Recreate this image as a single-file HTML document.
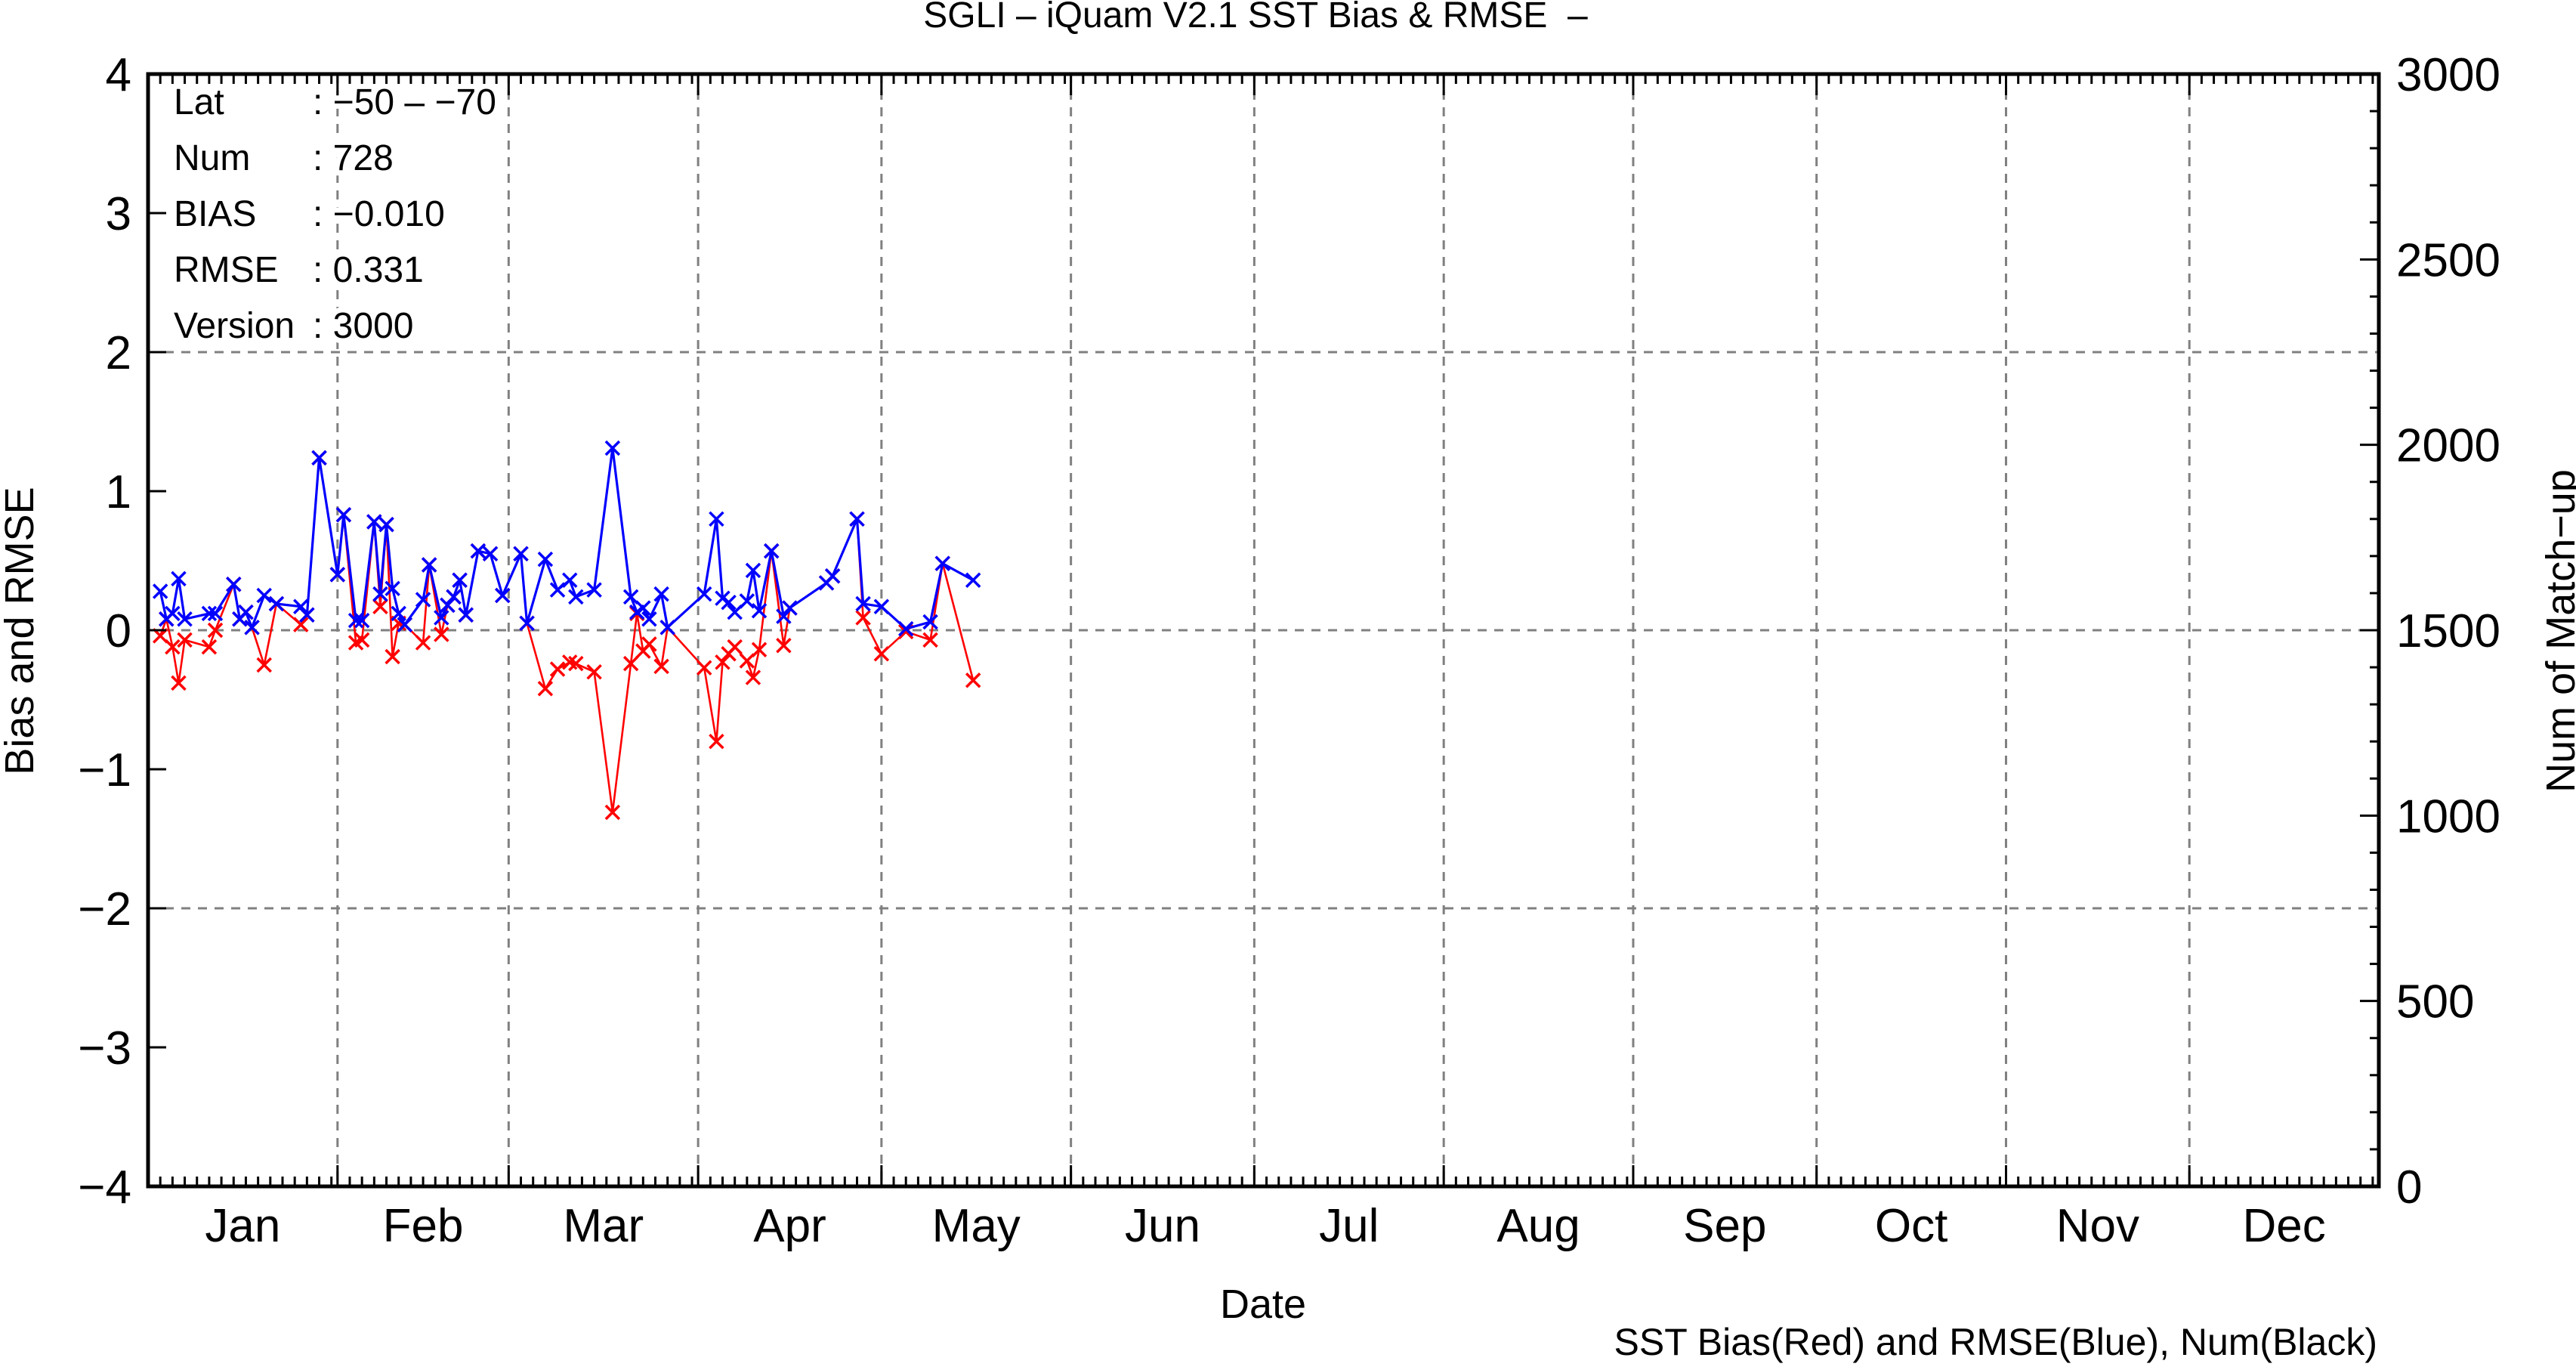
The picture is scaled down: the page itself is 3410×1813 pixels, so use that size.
<!DOCTYPE html>
<html><head><meta charset="utf-8"><style>
html,body{margin:0;padding:0;background:#fff;}
svg{display:block;font-family:"Liberation Sans",sans-serif;}
</style></head><body>
<svg id="chart" width="3410" height="1813" viewBox="0 0 3410 1813" xmlns="http://www.w3.org/2000/svg">
<rect x="0" y="0" width="3410" height="1813" fill="#fff"/>
<g id="grid"></g>
<g id="info"></g>
<g id="series"></g>
<g id="axes"></g>
<text x="1662" y="36" font-size="48" text-anchor="middle" xml:space="preserve" style="white-space:pre">SGLI – iQuam V2.1 SST Bias &amp; RMSE  –</text>
<text x="1672" y="1744" font-size="54" text-anchor="middle">Date</text>
<text x="0" y="0" font-size="54" text-anchor="middle" transform="translate(44,835) rotate(-90)">Bias and RMSE</text>
<text x="0" y="0" font-size="54" text-anchor="middle" transform="translate(3408,835) rotate(-90)">Num of Match−up</text>
<text x="3147" y="1793" font-size="50" text-anchor="end">SST Bias(Red) and RMSE(Blue), Num(Black)</text>
</svg>
<script>
const days = [2,3,4,5,6,10,11,14,15,16,17,19,21,25,26,28,31,32,34,35,37,38,39,40,41,42,45,46,48,49,50,51,52,54,56,58,61,62,65,67,69,70,73,76,79,80,81,82,84,85,91,93,94,95,96,98,99,100,102,104,105,111,112,116,117,120,124,128,130,135];
const rmse = [0.28,0.08,0.12,0.37,0.08,0.12,0.12,0.33,0.08,0.13,0.02,0.25,0.19,0.17,0.11,1.24,0.40,0.83,0.07,0.07,0.78,0.26,0.76,0.30,0.12,0.04,0.22,0.47,0.09,0.18,0.24,0.36,0.11,0.57,0.55,0.25,0.55,0.05,0.51,0.29,0.36,0.24,0.29,1.31,0.24,0.13,0.16,0.08,0.26,0.02,0.26,0.80,0.23,0.20,0.13,0.21,0.43,0.14,0.57,0.10,0.16,0.34,0.39,0.80,0.19,0.17,0.01,0.06,0.48,0.36];
const bias = [-0.04,0.08,-0.12,-0.38,-0.07,-0.12,0.0,0.33,0.08,0.13,0.02,-0.25,0.19,0.04,0.11,1.24,0.40,0.83,-0.09,-0.07,0.78,0.17,0.76,-0.19,0.05,0.04,-0.09,0.47,-0.03,0.18,0.24,0.36,0.11,0.57,0.55,0.25,0.55,0.05,-0.42,-0.28,-0.23,-0.24,-0.30,-1.31,-0.24,0.12,-0.15,-0.10,-0.26,0.02,-0.27,-0.80,-0.23,-0.17,-0.12,-0.22,-0.34,-0.14,0.57,-0.11,0.16,0.34,0.39,0.80,0.09,-0.17,-0.01,-0.07,0.48,-0.36];
const months = ["Jan","Feb","Mar","Apr","May","Jun","Jul","Aug","Sep","Oct","Nov","Dec"];
const monthDays = [31,28,31,30,31,30,31,31,30,31,30,31];
const leftTicks = [-4,-3,-2,-1,0,1,2,3,4];
const rightTicks = [0,500,1000,1500,2000,2500,3000];
const infoLabels = ["Lat","Num","BIAS","RMSE","Version"];
const infoValues = [": −50 – −70",": 728",": −0.010",": 0.331",": 3000"];

const NS="http://www.w3.org/2000/svg";
const L=196,R=3149,T=98,B=1570;
const xS=d=>L+d*(R-L)/365;
const yS=v=>B-(v+4)*(B-T)/8;
const y2S=n=>B-n*(B-T)/3000;
function mk(tag,attrs,parent){const e=document.createElementNS(NS,tag);for(const k in attrs)e.setAttribute(k,attrs[k]);parent.appendChild(e);return e;}
const grid=document.getElementById('grid'),axes=document.getElementById('axes'),series=document.getElementById('series'),info=document.getElementById('info');

let cum=0;
months.forEach((m,i)=>{
  const x0=xS(cum);
  if(i>0){
    const g=mk('line',{x1:x0,y1:T,x2:x0,y2:B,stroke:'#808080','stroke-width':3,'stroke-dasharray':'12,10'},grid);
    
    
    mk('line',{x1:x0,y1:B,x2:x0,y2:B-28,stroke:'#000','stroke-width':3},axes);
    mk('line',{x1:x0,y1:T,x2:x0,y2:T+28,stroke:'#000','stroke-width':3},axes);
  }
  for(let d=2;d<monthDays[i];d+=2){
    const x=xS(cum+d);
    mk('line',{x1:x,y1:B,x2:x,y2:B-13,stroke:'#000','stroke-width':3},axes);
    mk('line',{x1:x,y1:T,x2:x,y2:T+13,stroke:'#000','stroke-width':3},axes);
  }
  const t=mk('text',{x:xS(cum+monthDays[i]/2),y:1643,'font-size':62,'text-anchor':'middle'},axes);
  t.textContent=m;
  
  
  cum+=monthDays[i];
});
[-2,0,2].forEach(v=>{
  const g=mk('line',{x1:L,y1:yS(v),x2:R,y2:yS(v),stroke:'#808080','stroke-width':3,'stroke-dasharray':'12,10'},grid);
  
  
});
leftTicks.forEach(v=>{
  const y=yS(v);
  mk('line',{x1:L,y1:y,x2:L+24,y2:y,stroke:'#000','stroke-width':3},axes);
  const t=mk('text',{x:174,y:y+22,'font-size':62,'text-anchor':'end'},axes);
  t.textContent=(v<0?'−'+(-v):String(v));
  
  
});
for(let n=0;n<=3000;n+=100){
  const y=y2S(n),len=(n%500===0)?25:12;
  mk('line',{x1:R,y1:y,x2:R-len,y2:y,stroke:'#000','stroke-width':3},axes);
}
rightTicks.forEach(n=>{
  const t=mk('text',{x:3172,y:y2S(n)+22,'font-size':62,'text-anchor':'start'},axes);
  t.textContent=String(n);
  
  
});
const fr=mk('rect',{x:L,y:T,width:R-L,height:B-T,fill:'none',stroke:'#000','stroke-width':5},axes);



infoLabels.forEach((lab,i)=>{
  const y=151+i*74;
  const a=mk('text',{x:230,y:y,'font-size':48,stroke:'#fff','stroke-width':14,'paint-order':'stroke'},info);
  a.textContent=lab;
  
  
  const b=mk('text',{x:414,y:y,'font-size':48,stroke:'#fff','stroke-width':14,'paint-order':'stroke'},info);
  b.textContent=infoValues[i];
  
  
});

function drawSeries(vals,color,name,lw){
  const g=mk('g',{},series);
  
  
  const pts=days.map((d,i)=>xS(d).toFixed(1)+','+yS(vals[i]).toFixed(1)).join(' ');
  const pl=mk('polyline',{points:pts,fill:'none',stroke:color,'stroke-width':lw,'stroke-linejoin':'round'},g);
  
  
  days.forEach((d,i)=>{
    const x=xS(d),y=yS(vals[i]),s=9;
    const p=mk('path',{d:`M${x-s},${y-s}L${x+s},${y+s}M${x-s},${y+s}L${x+s},${y-s}`,stroke:color,'stroke-width':3.5,fill:'none'},g);
    
    
  });
}
drawSeries(bias,'#ff0000','bias-series',2.6);
drawSeries(rmse,'#0000ff','rmse-series',3.2);
</script>
</body></html>
